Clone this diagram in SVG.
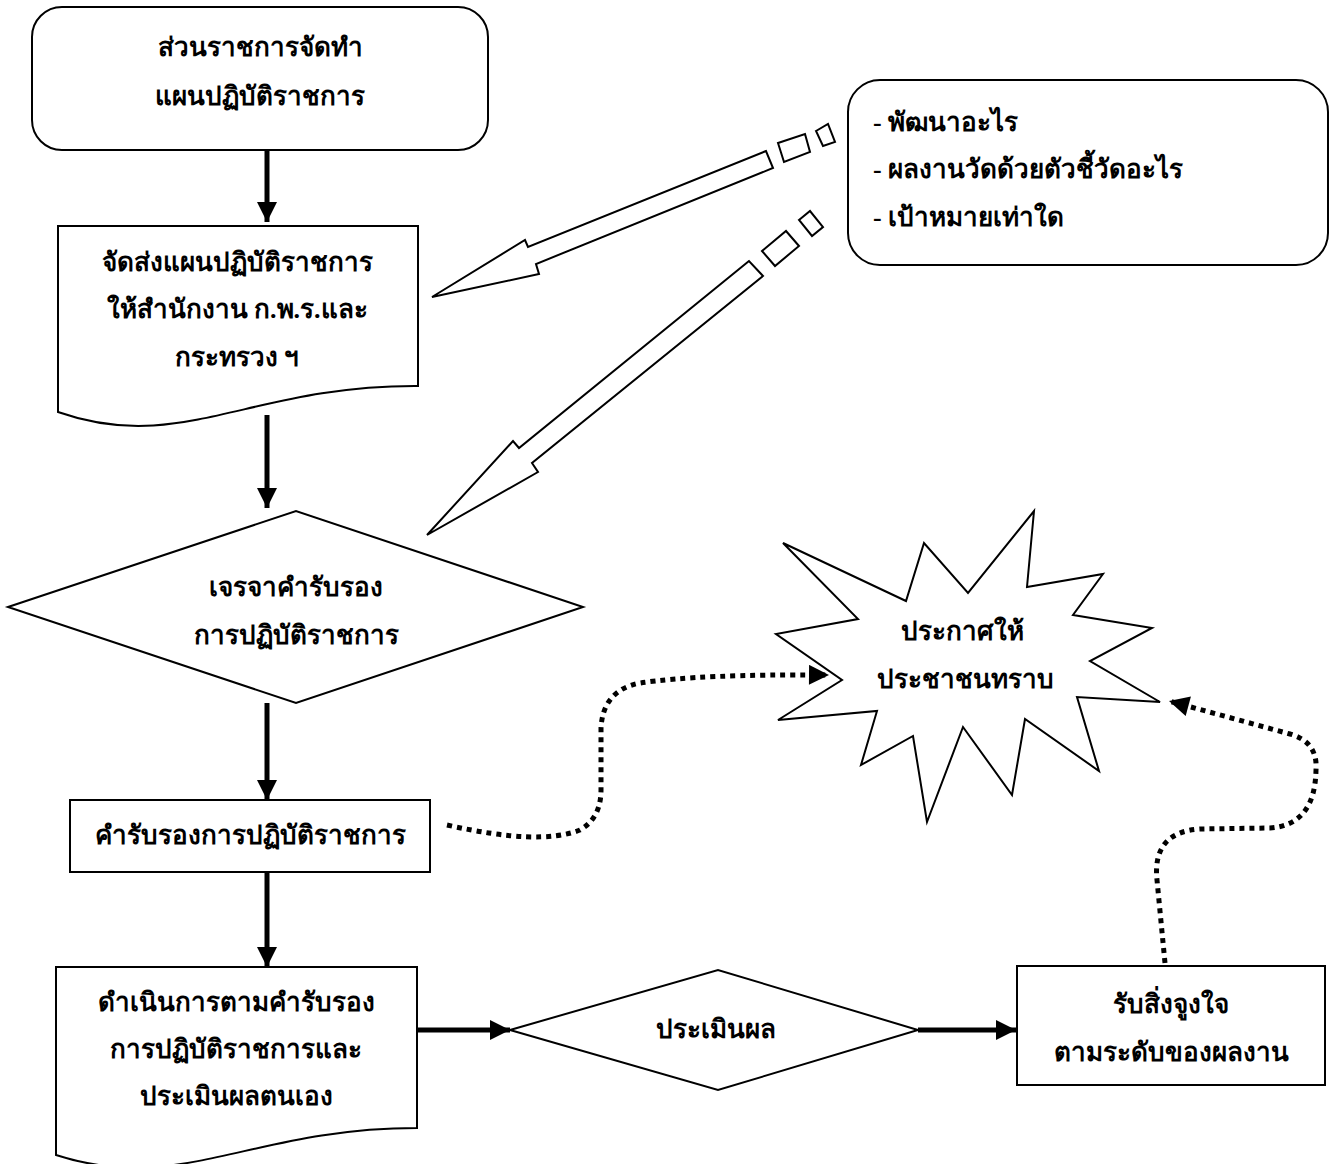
<svg xmlns="http://www.w3.org/2000/svg" width="1333" height="1164" viewBox="0 0 1333 1164">
<style>
.s{fill:#fff;stroke:#000;stroke-width:2}
.t{font-family:"Liberation Serif",serif;font-weight:bold;font-size:26px;fill:#000;text-anchor:middle}
.l{text-anchor:start}
.a{stroke:#000;stroke-width:5;fill:none}
.d{stroke:#000;stroke-width:5;fill:none;stroke-dasharray:5 5}
</style>
<defs>
<marker id="ah" viewBox="0 0 10 10" refX="10" refY="5" markerWidth="4.4" markerHeight="4" orient="auto" markerUnits="strokeWidth">
<path d="M0,0 L10,5 L0,10 Z" fill="#000"/>
</marker>
</defs>
<rect width="1333" height="1164" fill="#fff"/>

<g id="connectors">
<line class="a" x1="267" y1="150" x2="267" y2="222" marker-end="url(#ah)"/>
<line class="a" x1="267" y1="415" x2="267" y2="508" marker-end="url(#ah)"/>
<line class="a" x1="267" y1="703" x2="267" y2="800" marker-end="url(#ah)"/>
<line class="a" x1="267" y1="872" x2="267" y2="967" marker-end="url(#ah)"/>
<line class="a" x1="416" y1="1030" x2="510" y2="1030" marker-end="url(#ah)"/>
<line class="a" x1="918" y1="1030" x2="1016" y2="1030" marker-end="url(#ah)"/>
<path class="d" d="M447,825 Q540,846 580,830 Q601,818 601,790 L601,728 Q603,690 640,683 Q700,674 829,675" marker-end="url(#ah)"/>
<path class="d" d="M1165,963 L1157,880 Q1152,832 1200,829 L1270,828 Q1315,825 1316,770 Q1318,742 1290,734 L1169,701" marker-end="url(#ah)"/>
<g id="blockarrow1">
<polygon class="s" points="766,151 528,247 525,240 432,297 539,274 536,264 773,168"/>
<polygon class="s" points="778,143 805,134 810,152 784,162"/>
<polygon class="s" points="816,131 828,124 835,142 823,146"/>
</g>
<g id="blockarrow2">
<polygon class="s" points="749,261 519,448 513,441 427,535 538,472 532,463 763,276"/>
<polygon class="s" points="762,251 786,231 799,246 775,266"/>
<polygon class="s" points="799,220 810,211 823,227 812,236"/>
</g>
</g>

<g id="n1">
<rect class="s" x="32" y="7" width="456" height="143" rx="30"/>
<text class="t" x="260" y="56">ส่วนราชการจัดทำ</text>
<text class="t" x="260" y="105">แผนปฏิบัติราชการ</text>
</g>

<g id="n2">
<path class="s" d="M58,226 L418,226 L418,386 C250,385 180,455 58,412 Z"/>
<text class="t" x="237" y="271">จัดส่งแผนปฏิบัติราชการ</text>
<text class="t" x="237" y="318">ให้สำนักงาน ก.พ.ร.และ</text>
<text class="t" x="237" y="366">กระทรวง ฯ</text>
</g>

<g id="n3">
<polygon class="s" points="8,607 296,511 583,607 296,703"/>
<text class="t" x="296" y="596">เจรจาคำรับรอง</text>
<text class="t" x="296" y="644">การปฏิบัติราชการ</text>
</g>

<g id="n4">
<rect class="s" x="70" y="800" width="360" height="72"/>
<text class="t" x="250" y="844">คำรับรองการปฏิบัติราชการ</text>
</g>

<g id="n5">
<path class="s" d="M56,967 L417,967 L417,1128 C250,1128 180,1195 56,1155 Z"/>
<text class="t" x="236" y="1011">ดำเนินการตามคำรับรอง</text>
<text class="t" x="236" y="1058">การปฏิบัติราชการและ</text>
<text class="t" x="236" y="1105">ประเมินผลตนเอง</text>
</g>

<g id="n6">
<polygon class="s" points="510,1030 718,970 918,1030 718,1090"/>
<text class="t" x="716" y="1038">ประเมินผล</text>
</g>

<g id="n7">
<rect class="s" x="1017" y="966" width="308" height="119"/>
<text class="t" x="1171" y="1013">รับสิ่งจูงใจ</text>
<text class="t" x="1171" y="1061">ตามระดับของผลงาน</text>
</g>

<g id="n8">
<polygon class="s" points="783,543 906,601 924,543 968,593 1034,511 1027,587 1103,574 1073,615 1152,628 1090,661 1160,702 1077,697 1099,771 1025,719 1012,795 963,727 927,822 913,736 861,765 877,711 778,720 842,680 776,634 858,619"/>
<text class="t" x="962" y="640">ประกาศให้</text>
<text class="t" x="965" y="688">ประชาชนทราบ</text>
</g>

<g id="n9">
<rect class="s" x="848" y="80" width="480" height="185" rx="32"/>
<text class="t l" x="873" y="131">- พัฒนาอะไร</text>
<text class="t l" x="873" y="178">- ผลงานวัดด้วยตัวชี้วัดอะไร</text>
<text class="t l" x="873" y="226">- เป้าหมายเท่าใด</text>
</g>
</svg>
